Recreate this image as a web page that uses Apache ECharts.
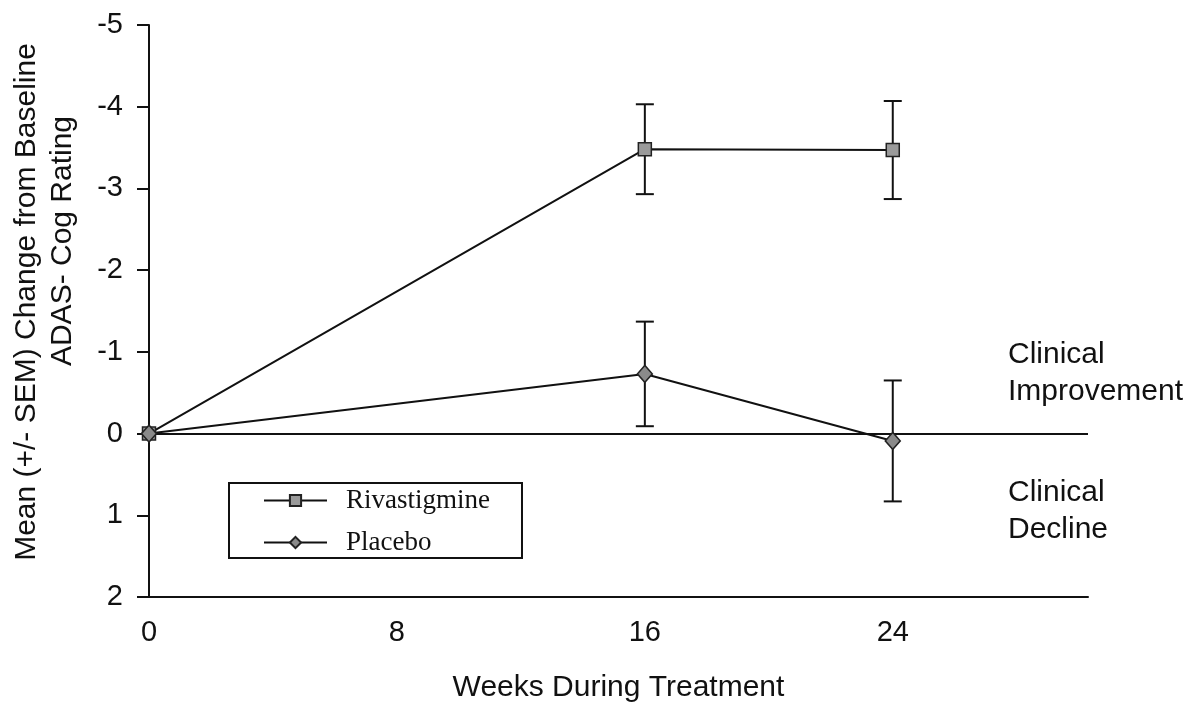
<!DOCTYPE html>
<html>
<head>
<meta charset="utf-8">
<script src="https://cdn.jsdelivr.net/npm/echarts@6/dist/echarts.min.js"></script>
<style>
html,body{margin:0;padding:0;background:#fff;}
#chart{width:1199px;height:702px;}
</style>
</head>
<body>
<div id="chart"></div>
<script>
// ---- data ----
const weeks = [0, 16, 24];
const xTicks = [0, 8, 16, 24];
const yTicks = [-5, -4, -3, -2, -1, 0, 1, 2];
const rivaMean = [0, -3.48, -3.47];
const rivaSem = [0, 0.55, 0.6];
const placeboMean = [0, -0.73, 0.09];
const placeboSem = [0, 0.64, 0.74];

const font = 'Liberation Sans, Arial, sans-serif';
const serif = 'Liberation Serif, Times New Roman, serif';

function pts(mean) { return weeks.map((w, i) => [w, mean[i]]); }
function errs(mean, sem) {
  return weeks.map((w, i) => [w, mean[i], sem[i]]).filter(d => d[2] > 0);
}

function errRender(params, api) {
  const x = api.value(0), y = api.value(1), s = api.value(2);
  const top = api.coord([x, y - s]);
  const bot = api.coord([x, y + s]);
  const hw = 9;
  const st = { stroke: '#111', lineWidth: 2 };
  return {
    type: 'group',
    children: [
      { type: 'line', shape: { x1: top[0], y1: top[1], x2: bot[0], y2: bot[1] }, style: st },
      { type: 'line', shape: { x1: top[0] - hw, y1: top[1], x2: top[0] + hw, y2: top[1] }, style: st },
      { type: 'line', shape: { x1: bot[0] - hw, y1: bot[1], x2: bot[0] + hw, y2: bot[1] }, style: st }
    ]
  };
}

const chart = echarts.init(document.getElementById('chart'));
chart.setOption({
  animation: false,
  backgroundColor: '#fff',
  grid: { left: 149, right: 111, top: 25, bottom: 105, containLabel: false, outerBoundsMode: 'none' },
  xAxis: {
    type: 'value', min: 0, max: 30.3, interval: 8,
    axisLine: { onZero: false, lineStyle: { color: '#111', width: 2 } },
    axisTick: { show: false },
    splitLine: { show: false },
    axisLabel: {
      margin: 21, color: '#111', fontFamily: font, fontSize: 29,
      formatter: v => (xTicks.indexOf(v) >= 0 ? String(v) : '')
    },
    name: 'Weeks During Treatment',
    nameLocation: 'middle', nameGap: 76,
    nameTextStyle: { color: '#111', fontFamily: font, fontSize: 30 }
  },
  yAxis: {
    type: 'value', inverse: true,
    min: yTicks[0], max: yTicks[yTicks.length - 1], interval: 1,
    axisLine: { show: true, onZero: false, lineStyle: { color: '#111', width: 2 } },
    axisTick: { show: true, length: 12, lineStyle: { color: '#111', width: 2 } },
    splitLine: { show: false },
    axisLabel: { margin: 26, color: '#111', fontFamily: font, fontSize: 29 }
  },
  legend: {
    data: ['Rivastigmine', 'Placebo'],
    orient: 'vertical',
    left: 229, top: 483,
    padding: [4, 32, 2, 34],
    itemGap: 15,
    itemWidth: 63, itemHeight: 14,
    borderColor: '#111', borderWidth: 2,
    textStyle: { color: '#111', fontFamily: serif, fontSize: 27, lineHeight: 24, padding: [0, 0, 0, 14] }
  },
  graphic: [
    { type: 'text', x: 27, y: 302, rotation: Math.PI / 2,
      style: { text: 'Mean (+/- SEM) Change from Baseline', fill: '#111', font: '30px ' + font, textAlign: 'center', textVerticalAlign: 'middle' } },
    { type: 'text', x: 63, y: 241, rotation: Math.PI / 2,
      style: { text: 'ADAS- Cog Rating', fill: '#111', font: '30px ' + font, textAlign: 'center', textVerticalAlign: 'middle' } },
    { type: 'text', x: 1008, y: 355,
      style: { text: 'Clinical', fill: '#111', font: '30px ' + font, textAlign: 'left', textVerticalAlign: 'middle' } },
    { type: 'text', x: 1008, y: 392,
      style: { text: 'Improvement', fill: '#111', font: '30px ' + font, textAlign: 'left', textVerticalAlign: 'middle' } },
    { type: 'text', x: 1008, y: 493,
      style: { text: 'Clinical', fill: '#111', font: '30px ' + font, textAlign: 'left', textVerticalAlign: 'middle' } },
    { type: 'text', x: 1008, y: 530,
      style: { text: 'Decline', fill: '#111', font: '30px ' + font, textAlign: 'left', textVerticalAlign: 'middle' } }
  ],
  series: [
    {
      name: 'Rivastigmine', type: 'line', data: pts(rivaMean),
      symbol: 'rect', symbolSize: 13,
      itemStyle: { color: '#9a9a9a', borderColor: '#222', borderWidth: 1.5 },
      lineStyle: { color: '#111', width: 2 },
      z: 5,
      markLine: {
        silent: true, symbol: 'none', label: { show: false },
        lineStyle: { color: '#111', width: 2, type: 'solid' },
        data: [{ yAxis: 0 }]
      }
    },
    {
      name: 'Placebo', type: 'line', data: pts(placeboMean),
      symbol: 'diamond', symbolSize: [15, 17],
      itemStyle: { color: '#8a8a8a', borderColor: '#222', borderWidth: 1.5 },
      lineStyle: { color: '#111', width: 2 },
      z: 5
    },
    { type: 'custom', renderItem: errRender, data: errs(rivaMean, rivaSem), z: 3 },
    { type: 'custom', renderItem: errRender, data: errs(placeboMean, placeboSem), z: 3 }
  ]
});
</script>
</body>
</html>
